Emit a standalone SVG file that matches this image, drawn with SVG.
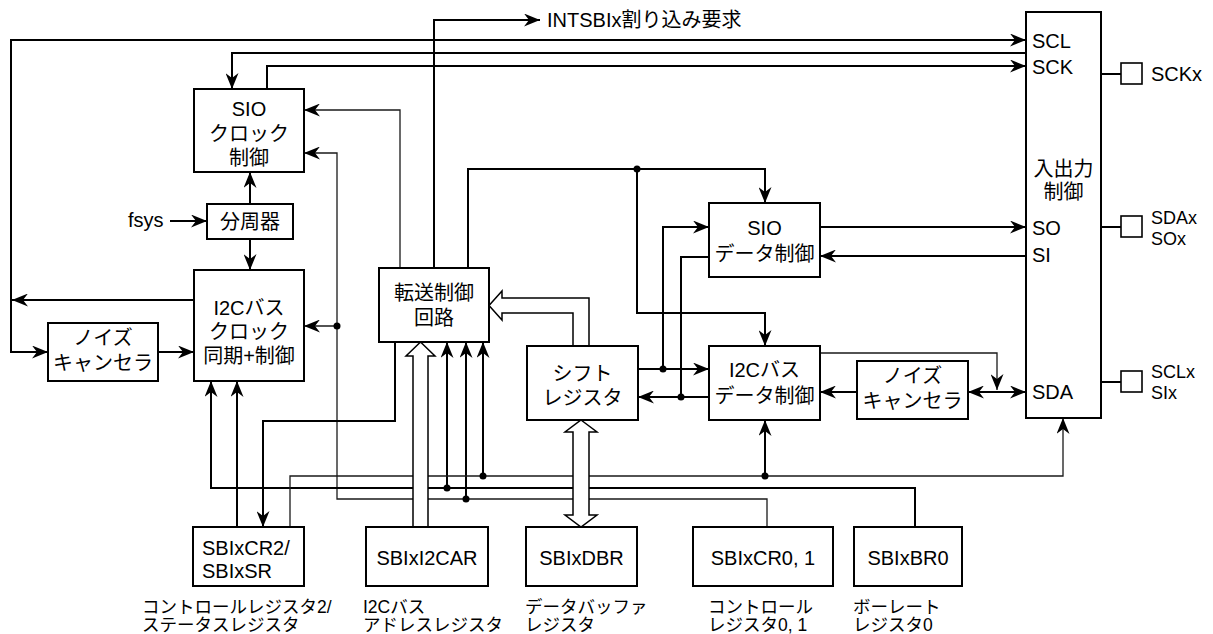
<svg xmlns="http://www.w3.org/2000/svg" width="1213" height="634" viewBox="0 0 1213 634">
<style>
.box{fill:#fff;stroke:#000;stroke-width:2}
.pin{fill:#fff;stroke:#000;stroke-width:1.6}
.t{font-family:"Liberation Sans",Arial,"Noto Sans CJK JP",sans-serif;font-size:20px;fill:#000}
.p{font-family:"Liberation Sans",Arial,sans-serif;font-size:18px;fill:#000}
.c{text-anchor:middle}
.s{font-family:"Liberation Sans",Arial,"Noto Sans CJK JP",sans-serif;font-size:17.5px;fill:#000}
.w{fill:none;stroke:#000;stroke-width:2}
.n{fill:none;stroke:#1a1a1a;stroke-width:1.3}
.a{marker-end:url(#arr)}
.d{marker-start:url(#arr);marker-end:url(#arr)}
.h{fill:#fff;stroke:#000;stroke-width:1.5;stroke-linejoin:miter}
.dot{fill:#000}
</style>
<defs>
<marker id="arr" markerUnits="userSpaceOnUse" markerWidth="17" markerHeight="13" refX="16" refY="6.5" orient="auto-start-reverse" viewBox="0 0 17 13">
<path d="M0,0 L16,6.5 L0,13 L5,6.5 Z" fill="#000"/>
</marker>
</defs>
<rect width="1213" height="634" fill="#fff"/>
<g id="connectors">
<path class="w a" d="M194,300 L12,300"/>
<path class="w a" d="M11,300 L11,40 L1026,40"/>
<path class="w a" d="M11,300 L11,352 L48,352"/>
<path class="w a" d="M158,352 L194,352"/>
<path class="w a" d="M1026,53 L232,53 L232,89"/>
<path class="w a" d="M267,89 L267,66 L1026,66"/>
<path class="w a" d="M250,204 L250,172"/>
<path class="w a" d="M250,239 L250,270"/>
<path class="w a" d="M170,221 L207,221"/>
<path class="n a" d="M400,268 L400,110 L304,110"/>
<path class="w a" d="M434,268 L434,20 L540,20"/>
<path class="w a" d="M468,268 L468,169 L765,169 L765,203"/>
<path class="w a" d="M637,169 L637,313 L765,313 L765,346"/>
<path class="n a" d="M767,527 L767,499 L337,499 L337,153 L304,153"/>
<path class="n a" d="M337,326 L304,326"/>
<path class="w a" d="M466,499 L466,342"/>
<path class="w a" d="M915,527 L915,488 L211,488 L211,381"/>
<path class="w a" d="M447,488 L447,342"/>
<path class="n a" d="M290,527 L290,476 L1063,476 L1063,418"/>
<path class="w a" d="M483,476 L483,342"/>
<path class="w a" d="M765,476 L765,420"/>
<path class="w a" d="M237,527 L237,381"/>
<path class="w a" d="M395,342 L395,421 L263,421 L263,527"/>
<path class="w a" d="M820,227 L1026,227"/>
<path class="w a" d="M1026,256 L820,256"/>
<path class="w a" d="M638,369 L709,369"/>
<path class="w a" d="M663,369 L663,227 L709,227"/>
<path class="w a" d="M709,397 L638,397"/>
<path class="w" d="M709,257 L681,257 L681,397"/>
<path class="n a" d="M820,353 L997,353 L997,390"/>
<path class="w d" d="M968,392 L1026,392"/>
<path class="w a" d="M857,392 L820,392"/>
<path class="w" d="M1101,74 L1121,74 M1101,227 L1121,227 M1101,382 L1121,382"/>
<polygon class="h" points="589,346 589,298 502,298 502,291 489,305.5 502,320 502,313 573,313 573,346"/>
<polygon class="h" points="413,527 413,356 406,356 420.5,342 435,356 428,356 428,527"/>
<polygon class="h" points="581,420 597,432 589,432 589,515 597,515 581,527 565,515 573,515 573,432 565,432"/>
<circle class="dot" cx="637" cy="169" r="3.5"/>
<circle class="dot" cx="663" cy="369" r="3.5"/>
<circle class="dot" cx="681" cy="397" r="3.5"/>
<circle class="dot" cx="337" cy="326" r="3.5"/>
<circle class="dot" cx="447" cy="488" r="3.5"/>
<circle class="dot" cx="466" cy="499" r="3.5"/>
<circle class="dot" cx="483" cy="476" r="3.5"/>
<circle class="dot" cx="765" cy="476" r="3.5"/>
</g>
<g id="sio-clock"><rect class="box" x="194" y="89" width="110" height="83"/>
<text class="t c" x="249" y="116">SIO</text><text class="t c" x="249" y="141">クロック</text><text class="t c" x="249" y="165">制御</text></g>
<g id="divider"><rect class="box" x="207" y="204" width="86" height="35"/>
<text class="t c" x="250" y="229">分周器</text></g>
<text class="t" x="128" y="227">fsys</text>
<g id="i2c-clock"><rect class="box" x="194" y="270" width="110" height="111"/>
<text class="t c" x="249" y="315">I2Cバス</text><text class="t c" x="249" y="339">クロック</text><text class="t c" x="249" y="363">同期+制御</text></g>
<g id="noise-left"><rect class="box" x="48" y="323" width="110" height="58"/>
<text class="t c" x="103" y="345">ノイズ</text><text class="t c" x="103" y="370">キャンセラ</text></g>
<g id="transfer"><rect class="box" x="379" y="268" width="110" height="74"/>
<text class="t c" x="434" y="300">転送制御</text><text class="t c" x="434" y="325">回路</text></g>
<text class="t" x="547" y="27">INTSBIx割り込み要求</text>
<g id="shift"><rect class="box" x="527" y="346" width="111" height="74"/>
<text class="t c" x="582.5" y="381">シフト</text><text class="t c" x="582.5" y="405">レジスタ</text></g>
<g id="sio-data"><rect class="box" x="709" y="203" width="111" height="74"/>
<text class="t c" x="764.5" y="235">SIO</text><text class="t c" x="764.5" y="261">データ制御</text></g>
<g id="i2c-data"><rect class="box" x="709" y="346" width="111" height="74"/>
<text class="t c" x="764.5" y="377">I2Cバス</text><text class="t c" x="764.5" y="403">データ制御</text></g>
<g id="noise-right"><rect class="box" x="857" y="361" width="111" height="58"/>
<text class="t c" x="912.5" y="383">ノイズ</text><text class="t c" x="912.5" y="408">キャンセラ</text></g>
<g id="io"><rect class="box" x="1026" y="12" width="75" height="406"/>
<text class="t" x="1032" y="48">SCL</text><text class="t" x="1032" y="74">SCK</text>
<text class="t c" x="1063.5" y="176">入出力</text><text class="t c" x="1063.5" y="199">制御</text>
<text class="t" x="1032" y="235">SO</text><text class="t" x="1032" y="262">SI</text><text class="t" x="1032" y="399">SDA</text></g>
<g id="pin-sck"><rect class="pin" x="1121" y="63" width="21" height="21"/><text class="t" x="1151" y="81">SCKx</text></g>
<g id="pin-sda"><rect class="pin" x="1121" y="216" width="21" height="21"/><text class="p" x="1151" y="224">SDAx</text><text class="p" x="1151" y="245">SOx</text></g>
<g id="pin-scl"><rect class="pin" x="1121" y="371" width="21" height="21"/><text class="p" x="1151" y="378">SCLx</text><text class="p" x="1151" y="399">SIx</text></g>
<g id="sbicr2"><rect class="box" x="193" y="527" width="111" height="59"/>
<text class="t" x="202" y="555">SBIxCR2/</text><text class="t" x="202" y="578">SBIxSR</text>
<text class="s" x="142" y="613">コントロールレジスタ2/</text><text class="s" x="142" y="631">ステータスレジスタ</text></g>
<g id="sbii2car"><rect class="box" x="366" y="527" width="122" height="59"/>
<text class="t c" x="427" y="565">SBIxI2CAR</text>
<text class="s" x="363" y="613">I2Cバス</text><text class="s" x="363" y="631">アドレスレジスタ</text></g>
<g id="sbidbr"><rect class="box" x="526" y="527" width="111" height="59"/>
<text class="t c" x="581.5" y="565">SBIxDBR</text>
<text class="s" x="525" y="613">データバッファ</text><text class="s" x="525" y="631">レジスタ</text></g>
<g id="sbicr01"><rect class="box" x="693" y="527" width="140" height="59"/>
<text class="t c" x="763" y="565">SBIxCR0, 1</text>
<text class="s" x="708" y="613">コントロール</text><text class="s" x="708" y="631">レジスタ0, 1</text></g>
<g id="sbibr0"><rect class="box" x="854" y="527" width="108" height="59"/>
<text class="t c" x="908" y="565">SBIxBR0</text>
<text class="s" x="853" y="613">ボーレート</text><text class="s" x="853" y="631">レジスタ0</text></g>
</svg>
